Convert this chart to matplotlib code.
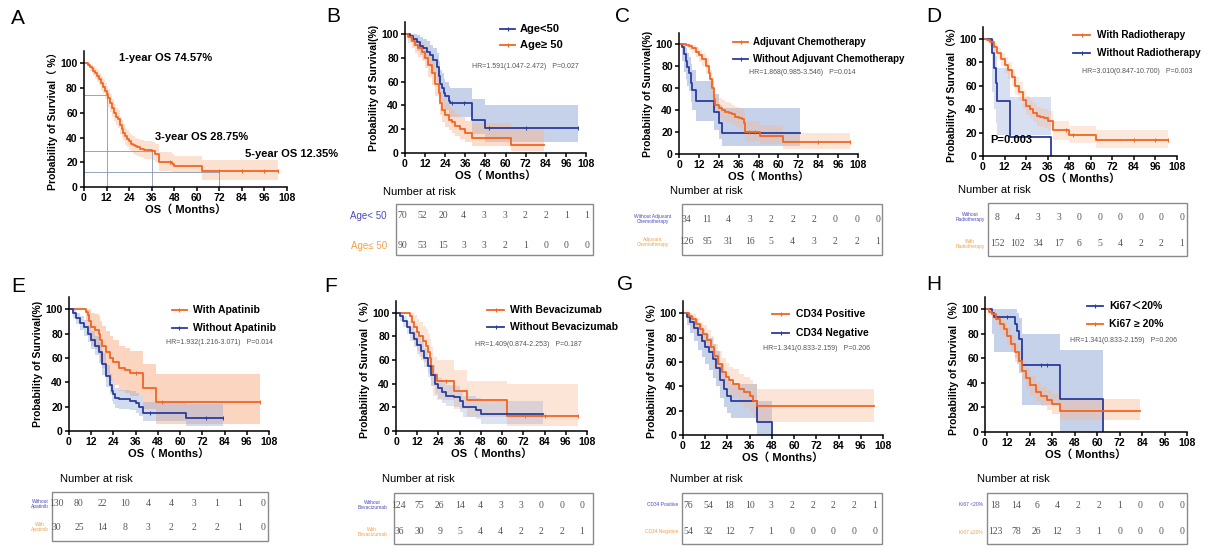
import numpy as np
import matplotlib
matplotlib.use('Agg')
import matplotlib.pyplot as plt
from matplotlib.lines import Line2D
from matplotlib.patches import Rectangle

W, H = 1215, 550
ORANGE = '#F26522'
BLUE = '#2B3C9B'
ORANGE_CI = '#F9B48C'
BLUE_CI = '#8EA6D6'
SANS = ['Liberation Sans', 'Noto Sans CJK SC', 'DejaVu Sans']
SERIF = ['Liberation Serif', 'DejaVu Serif']
plt.rcParams['font.family'] = SANS

x_ticks = [0, 12, 24, 36, 48, 60, 72, 84, 96, 108]
y_ticks = [0, 20, 40, 60, 80, 100]

# ---------------- Panel A: overall OS ----------------
A_t = [0, 2, 3, 4, 5, 6, 7, 8, 9, 10, 11, 12, 13, 14, 15, 16, 17, 18, 19, 20, 21, 22, 23, 24, 25, 26, 27, 28, 30, 32, 36, 38, 40, 47, 48, 63, 103]
A_s = [100, 99, 97, 96, 94, 92, 90, 87, 84, 81, 78, 75, 72, 68, 64, 60, 57, 55, 50, 47, 44, 41, 39, 37, 35, 34, 33, 32, 31, 30, 29, 27, 20, 19, 17, 13, 13]
A_lo = [100, 97, 94, 92, 90, 87, 85, 82, 78, 75, 71, 68, 65, 61, 57, 53, 50, 48, 43, 40, 37, 34, 32, 30, 28, 27, 26, 25, 24, 23, 22, 20, 13, 12, 11, 6, 6]
A_hi = [100, 100, 99, 99, 98, 96, 95, 92, 90, 87, 84, 81, 79, 75, 71, 67, 64, 62, 57, 54, 51, 48, 46, 44, 42, 41, 40, 39, 38, 37, 36, 35, 28, 27, 25, 22, 22]
A_cens = [46, 72, 84, 96, 103]
A_landmark_t = [12, 36, 72]
A_landmark_s = [74.57, 28.75, 12.35]
A_notes = ['1-year OS 74.57%', '3-year OS 28.75%', '5-year OS 12.35%']

# ---------------- Panel B: age ----------------
B1_t = [0, 3, 5, 7, 9, 11, 13, 15, 17, 19, 20, 21, 22, 23, 24, 26, 27, 40, 48, 103]
B1_s = [100, 98, 96, 93, 90, 88, 85, 82, 78, 72, 65, 58, 55, 50, 48, 44, 42, 28, 21, 21]
B1_lo = [100, 94, 90, 86, 82, 79, 75, 72, 67, 60, 53, 46, 43, 38, 36, 32, 30, 16, 9, 9]
B1_hi = [100, 100, 100, 99, 97, 96, 94, 91, 88, 84, 77, 70, 67, 62, 60, 56, 55, 45, 40, 40]
B1_cens = [28, 35, 50, 72, 103]
B2_t = [0, 2, 4, 6, 8, 10, 12, 14, 16, 18, 20, 21, 22, 24, 26, 28, 30, 33, 36, 40, 63, 83]
B2_s = [100, 97, 94, 91, 88, 85, 80, 74, 67, 58, 50, 42, 36, 32, 28, 26, 23, 20, 17, 13, 7, 7]
B2_lo = [100, 92, 88, 84, 81, 77, 71, 64, 57, 48, 40, 32, 26, 22, 19, 17, 14, 12, 9, 6, 2, 2]
B2_hi = [100, 100, 98, 96, 94, 92, 88, 83, 77, 68, 60, 52, 46, 42, 38, 36, 33, 30, 27, 25, 22, 22]
B_labels = ['Age<50', 'Age≥ 50']
B_hr = 'HR=1.591(1.047-2.472)   P=0.027'
B_risk = [[70, 52, 20, 4, 3, 3, 2, 2, 1, 1], [90, 53, 15, 3, 3, 2, 1, 0, 0, 0]]
B_rowlab = ['Age< 50', 'Age≤ 50']

# ---------------- Panel C: adjuvant chemotherapy ----------------
C1_t = [0, 4, 6, 8, 10, 12, 14, 16, 18, 19, 20, 21, 22, 24, 26, 28, 30, 32, 34, 36, 38, 39, 40, 49, 63, 103]
C1_s = [100, 99, 98, 96, 93, 90, 86, 80, 74, 68, 60, 50, 45, 42, 40, 38, 37, 36, 34, 33, 32, 28, 20, 16, 11, 11]
C1_lo = [100, 96, 95, 92, 88, 84, 80, 73, 66, 60, 51, 41, 36, 33, 31, 29, 28, 27, 25, 24, 23, 19, 12, 9, 5, 5]
C1_hi = [100, 100, 100, 99, 97, 95, 92, 87, 82, 76, 69, 59, 54, 51, 49, 47, 46, 45, 43, 42, 41, 38, 30, 26, 19, 19]
C1_cens = [42, 46, 84, 103]
C2_t = [0, 2, 3, 4, 5, 6, 7, 8, 10, 20, 21, 24, 26, 73]
C2_s = [100, 97, 91, 85, 79, 74, 65, 58, 48, 48, 38, 28, 19, 19]
C2_lo = [100, 85, 75, 68, 62, 57, 47, 40, 30, 30, 22, 14, 7, 7]
C2_hi = [100, 100, 100, 96, 92, 88, 82, 76, 66, 66, 55, 45, 42, 42]
C_labels = ['Adjuvant Chemotherapy', 'Without Adjuvant Chemotherapy']
C_hr = 'HR=1.868(0.985-3.546)   P=0.014'
C_risk = [[34, 11, 4, 3, 2, 2, 2, 0, 0, 0], [126, 95, 31, 16, 5, 4, 3, 2, 2, 1]]
C_rowlab = ['Without Adjuvant\nChemotherapy', 'Adjuvant\nChemotherapy']

# ---------------- Panel D: radiotherapy ----------------
D1_t = [0, 2, 4, 6, 8, 10, 12, 14, 16, 18, 20, 22, 24, 26, 28, 30, 32, 34, 36, 39, 48, 63, 103]
D1_s = [100, 99, 97, 93, 88, 83, 78, 73, 67, 60, 55, 48, 43, 40, 37, 34, 33, 32, 30, 22, 18, 14, 14]
D1_lo = [100, 97, 94, 89, 83, 77, 71, 66, 60, 52, 47, 40, 35, 32, 29, 26, 25, 24, 22, 14, 11, 7, 7]
D1_hi = [100, 100, 99, 96, 92, 88, 84, 80, 74, 67, 63, 56, 51, 48, 45, 42, 41, 40, 38, 30, 26, 22, 22]
D1_cens = [46, 50, 84, 96, 103]
D2_t = [0, 5, 6, 7, 8, 15, 38]
D2_s = [100, 88, 75, 62, 47, 16, 0]
D2_lo = [100, 55, 40, 28, 18, 18, 18]
D2_hi = [100, 100, 95, 85, 75, 50, 50]
D_labels = ['With Radiotherapy', 'Without Radiotherapy']
D_hr = 'HR=3.010(0.847-10.700)   P=0.003'
D_risk = [[8, 4, 3, 3, 0, 0, 0, 0, 0, 0], [152, 102, 34, 17, 6, 5, 4, 2, 2, 1]]
D_rowlab = ['Without\nRadiotherapy', 'With\nRadiotherapy']

# ---------------- Panel E: apatinib ----------------
E1_t = [0, 9, 10, 11, 12, 14, 16, 17, 18, 20, 22, 24, 27, 30, 33, 40, 47, 103]
E1_s = [100, 98, 95, 90, 85, 83, 80, 75, 70, 65, 60, 57, 52, 50, 48, 35, 24, 24]
E1_lo = [100, 90, 85, 78, 70, 67, 63, 57, 52, 46, 41, 38, 33, 31, 29, 18, 6, 6]
E1_hi = [100, 100, 100, 100, 97, 96, 94, 90, 86, 82, 78, 75, 70, 68, 66, 55, 47, 47]
E1_cens = [36, 50, 103]
E2_t = [0, 2, 4, 6, 8, 10, 12, 14, 16, 18, 20, 22, 23, 24, 25, 27, 33, 36, 38, 40, 63, 83]
E2_s = [100, 97, 93, 89, 85, 80, 75, 70, 65, 55, 45, 38, 33, 30, 27, 26, 25, 23, 20, 15, 11, 11]
E2_lo = [100, 93, 88, 83, 78, 73, 67, 62, 56, 46, 36, 30, 25, 22, 19, 18, 17, 15, 12, 8, 4, 4]
E2_hi = [100, 100, 97, 94, 91, 87, 82, 78, 73, 64, 54, 47, 42, 38, 35, 34, 33, 31, 29, 24, 22, 22]
E2_cens = [44, 74, 83]
E_labels = ['With Apatinib', 'Without Apatinib']
E_hr = 'HR=1.932(1.216-3.071)   P=0.014'
E_risk = [[130, 80, 22, 10, 4, 4, 3, 1, 1, 0], [30, 25, 14, 8, 3, 2, 2, 2, 1, 0]]
E_rowlab = ['Without\nApatinib', 'With\nApatinib']

# ---------------- Panel F: bevacizumab ----------------
F1_t = [0, 8, 9, 10, 12, 13, 15, 17, 18, 19, 20, 21, 23, 33, 40, 63, 103]
F1_s = [100, 97, 92, 88, 84, 80, 76, 72, 67, 62, 55, 47, 42, 34, 26, 13, 13]
F1_lo = [100, 85, 78, 72, 68, 63, 58, 54, 49, 44, 38, 30, 26, 19, 12, 4, 4]
F1_hi = [100, 100, 100, 98, 95, 92, 89, 86, 82, 78, 71, 63, 60, 52, 42, 40, 40]
F1_cens = [28, 73, 84, 103]
F2_t = [0, 2, 4, 6, 8, 10, 12, 14, 16, 18, 20, 22, 24, 26, 28, 33, 36, 38, 45, 48, 83]
F2_s = [100, 97, 93, 88, 83, 78, 73, 68, 62, 55, 47, 40, 36, 33, 30, 29, 25, 20, 18, 14, 14]
F2_lo = [100, 93, 88, 82, 76, 71, 65, 60, 54, 46, 38, 31, 27, 24, 21, 20, 16, 12, 10, 6, 6]
F2_hi = [100, 100, 97, 93, 89, 85, 80, 76, 70, 63, 56, 49, 45, 42, 39, 38, 34, 30, 28, 25, 25]
F_labels = ['With Bevacizumab', 'Without Bevacizumab']
F_hr = 'HR=1.409(0.874-2.253)   P=0.187'
F_risk = [[124, 75, 26, 14, 4, 3, 3, 0, 0, 0], [36, 30, 9, 5, 4, 4, 2, 2, 2, 1]]
F_rowlab = ['Without\nBevacizumab', 'With\nBevacizumab']

# ---------------- Panel G: CD34 ----------------
G1_t = [0, 3, 5, 7, 9, 11, 13, 15, 17, 19, 21, 23, 25, 27, 30, 33, 36, 38, 40, 103]
G1_s = [100, 98, 95, 91, 87, 83, 78, 72, 65, 58, 52, 48, 45, 42, 38, 35, 32, 28, 24, 24]
G1_lo = [100, 93, 89, 84, 79, 74, 69, 62, 54, 47, 41, 37, 33, 30, 26, 22, 19, 15, 11, 11]
G1_hi = [100, 100, 99, 96, 93, 90, 86, 81, 75, 69, 63, 59, 56, 54, 50, 48, 45, 42, 38, 38]
G2_t = [0, 2, 4, 6, 8, 10, 12, 14, 16, 18, 20, 22, 24, 26, 40, 48]
G2_s = [100, 97, 93, 88, 82, 77, 72, 68, 62, 55, 45, 38, 32, 28, 11, 0]
G2_lo = [100, 90, 84, 77, 70, 64, 58, 53, 47, 40, 30, 23, 18, 14, 0, 0]
G2_hi = [100, 100, 98, 95, 91, 87, 83, 80, 75, 69, 59, 52, 46, 42, 28, 28]
G_labels = ['CD34 Positive', 'CD34 Negative']
G_hr = 'HR=1.341(0.833-2.159)   P=0.206'
G_risk = [[76, 54, 18, 10, 3, 2, 2, 2, 2, 1], [54, 32, 12, 7, 1, 0, 0, 0, 0, 0]]
G_rowlab = ['CD34 Positive', 'CD34 Negative']

# ---------------- Panel H: Ki67 ----------------
H1_t = [0, 4, 5, 15, 16, 17, 18, 20, 40, 63]
H1_s = [100, 97, 94, 94, 88, 82, 76, 55, 27, 0]
H1_lo = [100, 80, 65, 65, 60, 55, 48, 22, 0, 0]
H1_hi = [100, 100, 100, 100, 100, 97, 93, 80, 67, 67]
H1_cens = [6, 12, 30, 33]
H2_t = [0, 2, 4, 6, 8, 10, 12, 14, 16, 18, 20, 22, 24, 27, 30, 33, 36, 40, 83]
H2_s = [100, 98, 96, 92, 88, 84, 78, 72, 65, 58, 50, 44, 38, 33, 29, 26, 23, 17, 17]
H2_lo = [100, 95, 92, 87, 82, 78, 71, 65, 57, 50, 42, 36, 30, 25, 21, 18, 15, 10, 10]
H2_hi = [100, 100, 99, 96, 93, 90, 85, 79, 72, 66, 58, 52, 46, 41, 37, 34, 31, 27, 27]
H_labels = ['Ki67＜20%', 'Ki67 ≥ 20%']
H_hr = 'HR=1.341(0.833-2.159)   P=0.206'
H_risk = [[18, 14, 6, 4, 2, 2, 1, 0, 0, 0], [123, 78, 26, 12, 3, 1, 0, 0, 0, 0]]
H_rowlab = ['Ki67 <20%', 'Ki67 ≥20%']

fig = plt.figure(figsize=(W / 100, H / 100), dpi=100)


def fx(x):
    return x / W


def fy(y):
    return 1 - y / H


def make_axes(x0, ybot, w, h, ylabel):
    ax = fig.add_axes([fx(x0), fy(ybot), w / W, h / H])
    ax.set_xlim(0, 108)
    ax.set_ylim(0, 110)
    ax.set_xticks(x_ticks)
    ax.set_yticks(y_ticks)
    for sp in ['top', 'right']:
        ax.spines[sp].set_visible(False)
    for sp in ['left', 'bottom']:
        ax.spines[sp].set_linewidth(1.1)
    ax.tick_params(direction='out', length=3, width=1.1, labelsize=7.5, pad=1.5)
    for lab in ax.get_xticklabels() + ax.get_yticklabels():
        lab.set_fontweight('bold')
    ax.set_xlabel('OS（ Months）', fontsize=8, fontweight='bold', labelpad=1)
    ax.set_ylabel(ylabel, fontsize=7.5, fontweight='bold', labelpad=2)
    ax.patch.set_alpha(0)
    return ax


def km(ax, t, s, lo, hi, color, ci_color, cens=None, alpha=0.45):
    ax.fill_between(t, lo, hi, step='post', color=ci_color, alpha=alpha, lw=0)
    ax.step(t, s, where='post', color=color, lw=1.3)
    if cens:
        idx = np.searchsorted(t, cens, side='right') - 1
        vals = np.asarray(s)[idx]
        ax.plot(cens, vals, ls='none', marker='|', ms=3, mew=0.7, color=color)


def legend(entries, x1, x2, xt, fs=7.5):
    for (label, color, y) in entries:
        fig.add_artist(Line2D([fx(x1), fx(x2)], [fy(y), fy(y)], transform=fig.transFigure,
                              color=color, lw=1.3))
        fig.add_artist(Line2D([fx((x1 + x2) / 2)], [fy(y)], transform=fig.transFigure,
                              color=color, marker='|', ms=3.5, mew=0.8, ls='none'))
        fig.text(fx(xt), fy(y), label, fontsize=fs, fontweight='bold', va='center', ha='left')


def hr_text(x, y, s):
    fig.text(fx(x), fy(y), s, fontsize=5, color='#555555', va='center', ha='left')


def risk_table(box, title_xy, rows, nx0, nx1, row_ys, labels, lab_x, lab_ha, lab_fs):
    x0, y0, x1, y1 = box
    fig.add_artist(Rectangle((fx(x0), fy(y1)), (x1 - x0) / W, (y1 - y0) / H,
                             transform=fig.transFigure, fill=False, ec='#8a8a8a', lw=1.0))
    fig.text(fx(title_xy[0]), fy(title_xy[1]), 'Number at risk', fontsize=8, va='center', ha='left')
    xs = np.linspace(nx0, nx1, 10)
    for row, y in zip(rows, row_ys):
        for x, v in zip(xs, row):
            fig.text(fx(x), fy(y), str(v), family=SERIF, fontsize=7, color='#555555',
                     ha='center', va='center')
    for lab, col, y in zip(labels, ['#4a4ac0', '#f5a04a'], row_ys):
        fig.text(fx(lab_x), fy(y), lab, fontsize=lab_fs, color=col, ha=lab_ha, va='center',
                 linespacing=1.0, multialignment='center')


def letter(x, y, s):
    fig.text(fx(x), fy(y), s, fontsize=15, ha='center', va='center')


# ---------------- Draw A ----------------
axA = make_axes(84, 187, 203, 136, 'Probability of Survival（ %）')
for lt, ls_ in zip(A_landmark_t, A_landmark_s):
    axA.plot([0, lt], [ls_, ls_], color='#8797b0', lw=0.6)
    axA.plot([lt, lt], [0, ls_], color='#8797b0', lw=0.6)
km(axA, A_t, A_s, A_lo, A_hi, ORANGE, ORANGE_CI, A_cens, alpha=0.4)
fig.text(fx(119), fy(58), A_notes[0], fontsize=8, fontweight='bold', va='center')
fig.text(fx(155), fy(137), A_notes[1], fontsize=8, fontweight='bold', va='center')
fig.text(fx(245), fy(154), A_notes[2], fontsize=8, fontweight='bold', va='center')
letter(18, 18, 'A')

# ---------------- Draw B ----------------
axB = make_axes(405, 153, 181, 131, 'Probability of Survival(%)')
km(axB, B1_t, B1_s, B1_lo, B1_hi, BLUE, BLUE_CI, B1_cens, alpha=0.5)
km(axB, B2_t, B2_s, B2_lo, B2_hi, ORANGE, ORANGE_CI)
legend([(B_labels[0], BLUE, 29), (B_labels[1], ORANGE, 45)], 500, 515, 520, fs=8)
hr_text(472, 66, B_hr)
risk_table((396, 204, 593, 255), (383, 192), B_risk, 402, 587, [216, 246], B_rowlab, 387, 'right', 7)
letter(333, 17, 'B')

# ---------------- Draw C ----------------
axC = make_axes(679, 154, 179, 121, 'Probability of Survival(%)')
km(axC, C2_t, C2_s, C2_lo, C2_hi, BLUE, BLUE_CI, alpha=0.5)
km(axC, C1_t, C1_s, C1_lo, C1_hi, ORANGE, ORANGE_CI, C1_cens, alpha=0.35)
legend([(C_labels[0], ORANGE, 42), (C_labels[1], BLUE, 59)], 733, 748, 753, fs=7)
hr_text(749, 73, C_hr)
risk_table((682, 204, 882, 255), (670, 191), C_risk, 686, 878, [219, 242], C_rowlab, 653, 'center', 3.5)
letter(622, 17, 'C')

# ---------------- Draw D ----------------
axD = make_axes(983, 156, 194, 129, 'Probability of Survival（%）')
km(axD, D2_t, D2_s, D2_lo, D2_hi, BLUE, BLUE_CI, alpha=0.35)
km(axD, D1_t, D1_s, D1_lo, D1_hi, ORANGE, ORANGE_CI, D1_cens, alpha=0.3)
axD.text(4, 14, 'P=0.003', fontsize=8, fontweight='bold', va='center')
legend([(D_labels[0], ORANGE, 35), (D_labels[1], BLUE, 53)], 1073, 1090, 1097, fs=7.2)
hr_text(1082, 71, D_hr)
risk_table((988, 203, 1187, 256), (958, 190), D_risk, 997, 1182, [217, 244], D_rowlab, 970, 'center', 3.5)
letter(934, 17, 'D')

# ---------------- Draw E ----------------
axE = make_axes(69, 431, 200, 134, 'Probability of Survival(%)')
km(axE, E1_t, E1_s, E1_lo, E1_hi, ORANGE, ORANGE_CI, E1_cens, alpha=0.55)
km(axE, E2_t, E2_s, E2_lo, E2_hi, BLUE, BLUE_CI, E2_cens, alpha=0.4)
legend([(E_labels[0], ORANGE, 310), (E_labels[1], BLUE, 328)], 172, 187, 193, fs=7.5)
hr_text(166, 343, E_hr)
risk_table((52, 492, 268, 541), (60, 479), E_risk, 56, 263, [504, 527], E_rowlab, 40, 'center', 3.5)
letter(18, 286, 'E')

# ---------------- Draw F ----------------
axF = make_axes(396, 431, 191, 130, 'Probability of Survival（ %）')
km(axF, F1_t, F1_s, F1_lo, F1_hi, ORANGE, ORANGE_CI, F1_cens, alpha=0.35)
km(axF, F2_t, F2_s, F2_lo, F2_hi, BLUE, BLUE_CI, alpha=0.3)
legend([(F_labels[0], ORANGE, 310), (F_labels[1], BLUE, 327)], 487, 504, 510, fs=7.5)
hr_text(475, 345, F_hr)
risk_table((394, 493, 593, 544), (382, 479), F_risk, 399, 582, [505, 532], F_rowlab, 372, 'center', 3.5)
letter(331, 286, 'F')

# ---------------- Draw G ----------------
axG = make_axes(683, 435, 200, 134, 'Probability of Survival（%）')
km(axG, G2_t, G2_s, G2_lo, G2_hi, BLUE, BLUE_CI, alpha=0.5)
km(axG, G1_t, G1_s, G1_lo, G1_hi, ORANGE, ORANGE_CI, alpha=0.35)
legend([(G_labels[0], ORANGE, 314), (G_labels[1], BLUE, 333)], 772, 789, 796, fs=7.5)
hr_text(763, 349, G_hr)
risk_table((682, 493, 882, 544), (670, 479), G_risk, 688, 875, [505, 532], G_rowlab, 678, 'right', 3.5)
letter(625, 285, 'G')

# ---------------- Draw H ----------------
axH = make_axes(985, 432, 202, 135, 'Probability of Survival（%）')
km(axH, H1_t, H1_s, H1_lo, H1_hi, BLUE, BLUE_CI, H1_cens, alpha=0.5)
km(axH, H2_t, H2_s, H2_lo, H2_hi, ORANGE, ORANGE_CI, alpha=0.4)
legend([(H_labels[0], BLUE, 306), (H_labels[1], ORANGE, 324)], 1087, 1103, 1109, fs=7.5)
hr_text(1070, 341, H_hr)
risk_table((987, 493, 1187, 544), (977, 479), H_risk, 995, 1182, [505, 532], H_rowlab, 983, 'right', 3.5)
letter(934, 285, 'H')

fig.savefig('out.png', dpi=100)
